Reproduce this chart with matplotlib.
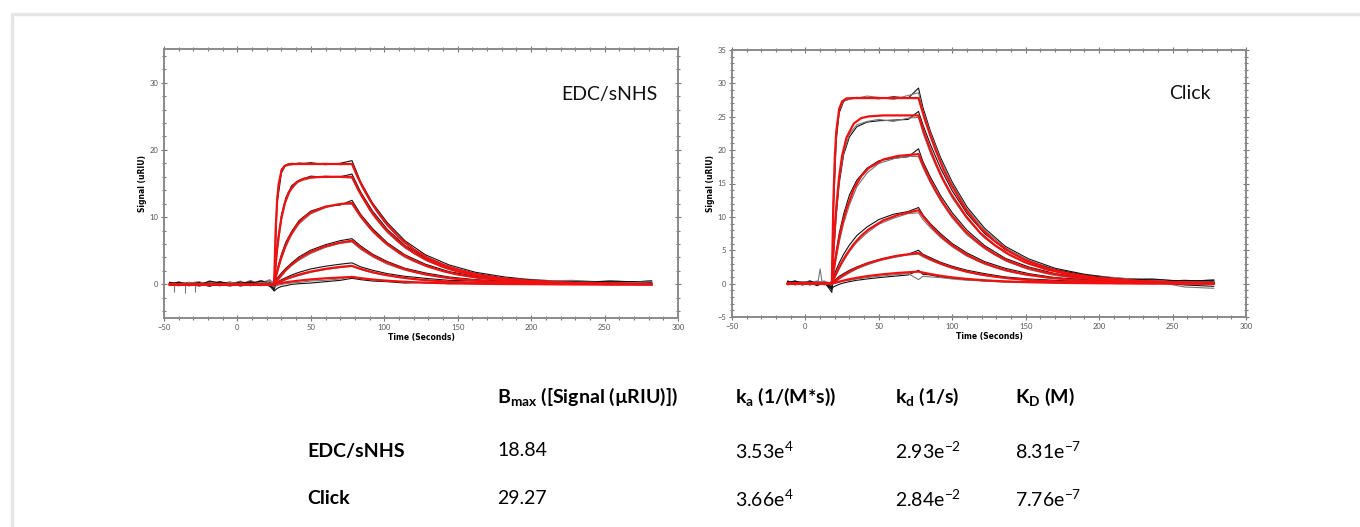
import matplotlib
matplotlib.use("Agg")
import matplotlib.pyplot as plt
from matplotlib.ticker import MultipleLocator
from matplotlib.lines import Line2D

plt.rcParams['font.family'] = ['Lato', 'DejaVu Sans']
plt.rcParams['mathtext.fontset'] = 'custom'
plt.rcParams['mathtext.rm'] = 'Lato'
plt.rcParams['mathtext.bf'] = 'Lato:bold'

# ---------------- EDC/sNHS panel ----------------
# fitted curves (red)
edc_fit_t = [-46, 25, 26, 27, 28, 30, 32, 35, 40, 45, 50, 60, 70, 78, 82, 86, 90, 95,
             100, 110, 120, 130, 140, 150, 165, 180, 200, 230, 260, 282]
edc_fit = [
    [0, 0, 8.0, 12.4, 14.8, 16.95, 17.6, 17.85, 17.9, 17.9, 17.9, 17.9, 17.9, 17.9,
     15.9, 14.2, 12.6, 10.9, 9.4, 7.0, 5.2, 3.9, 2.9, 2.2, 1.4, 0.9, 0.5, 0.2, 0.09, 0.04],
    [0, 0, 2.8, 5.2, 7.1, 10.0, 11.9, 13.7, 15.15, 15.7, 15.9, 16.0, 16.0, 16.0,
     14.2, 12.7, 11.2, 9.7, 8.4, 6.3, 4.7, 3.5, 2.6, 1.9, 1.25, 0.8, 0.45, 0.19, 0.08, 0.04],
    [0, 0, 0.97, 1.85, 2.67, 4.1, 5.35, 6.9, 8.7, 9.9, 10.7, 11.55, 11.95, 12.1,
     10.75, 9.6, 8.5, 7.36, 6.35, 4.74, 3.53, 2.64, 1.97, 1.46, 0.94, 0.61, 0.34, 0.14, 0.06, 0.03],
    [0, 0, 0.31, 0.61, 0.90, 1.43, 1.92, 2.6, 3.5, 4.24, 4.83, 5.68, 6.22, 6.5,
     5.78, 5.14, 4.57, 3.95, 3.41, 2.55, 1.90, 1.42, 1.06, 0.79, 0.51, 0.33, 0.18, 0.075, 0.03, 0.015],
    [0, 0, 0.11, 0.22, 0.33, 0.52, 0.71, 0.97, 1.33, 1.64, 1.90, 2.31, 2.60, 2.75,
     2.44, 2.18, 1.93, 1.67, 1.44, 1.08, 0.80, 0.60, 0.45, 0.33, 0.21, 0.14, 0.077, 0.03, 0.013, 0.006],
    [0, 0, 0.04, 0.08, 0.12, 0.20, 0.27, 0.37, 0.51, 0.63, 0.74, 0.90, 1.02, 1.1,
     0.98, 0.87, 0.77, 0.67, 0.58, 0.43, 0.32, 0.24, 0.18, 0.13, 0.085, 0.055, 0.03, 0.01, 0.005, 0.0],
]
# measured traces (black / grey), two replicates per concentration
edc_raw_t = [-46, -40, -33, -26, -19, -12, -5, 2, 9, 16, 22, 25, 27, 30, 33, 37, 42, 50,
             60, 70, 78, 84, 92, 102, 114, 128, 144, 162, 182, 204, 228, 254, 282]
edc_raw = [
    [0.2, 0.1, -0.2, 0.0, 0.3, -0.1, 0.1, 0.4, -0.2, 0.5, 0.3, -0.4, 12.0, 16.6, 17.8, 18.0,
     17.9, 18.1, 17.8, 18.0, 18.4, 15.2, 12.1, 9.2, 6.5, 4.4, 2.9, 1.8, 1.1, 0.6, 0.5, 0.3, 0.4],
    [-0.1, 0.3, 0.1, -0.3, 0.2, 0.4, -0.2, 0.0, 0.6, -0.1, 0.2, 0.1, 13.0, 17.2, 17.6, 17.8,
     18.1, 17.9, 18.0, 17.8, 17.9, 14.8, 11.8, 8.7, 6.1, 4.1, 2.7, 1.6, 0.9, 0.7, 0.3, 0.5, 0.2],
    [0.3, -0.2, 0.2, 0.1, -0.3, 0.2, 0.3, -0.1, 0.2, 0.4, -0.3, -0.6, 5.6, 10.3, 12.9, 14.7,
     15.5, 16.1, 15.9, 16.0, 16.4, 13.7, 10.9, 8.2, 5.8, 3.9, 2.5, 1.6, 0.9, 0.6, 0.4, 0.2, 0.5],
    [0.0, 0.4, -0.1, 0.2, 0.1, -0.2, 0.0, 0.5, -0.1, 0.1, 0.6, 0.2, 4.8, 9.6, 12.4, 14.3,
     15.3, 15.8, 16.1, 15.9, 15.8, 13.2, 10.4, 7.7, 5.4, 3.6, 2.2, 1.4, 0.8, 0.5, 0.6, 0.3, 0.2],
    [0.1, 0.0, 0.3, -0.2, 0.4, 0.1, -0.1, 0.2, 0.3, -0.2, 0.2, -0.8, 2.1, 4.5, 6.3, 7.9,
     9.5, 10.9, 11.6, 11.8, 12.5, 10.4, 8.3, 6.2, 4.4, 3.0, 1.9, 1.2, 0.7, 0.5, 0.3, 0.4, 0.1],
    [-0.2, 0.2, 0.0, 0.3, -0.1, 0.0, 0.4, -0.3, 0.1, 0.6, 0.0, 0.3, 1.6, 3.8, 5.6, 7.4,
     9.0, 10.5, 11.4, 12.0, 11.9, 9.9, 7.8, 5.8, 4.0, 2.7, 1.7, 1.0, 0.6, 0.4, 0.5, 0.2, 0.3],
    [0.2, -0.1, 0.1, 0.3, 0.0, -0.2, 0.2, 0.1, 0.4, 0.0, 0.3, -0.5, 0.9, 1.7, 2.4, 3.2,
     4.1, 5.1, 5.9, 6.5, 6.8, 5.7, 4.5, 3.4, 2.4, 1.7, 1.1, 0.7, 0.5, 0.3, 0.4, 0.2, 0.5],
    [0.0, 0.2, -0.2, 0.1, 0.2, 0.3, -0.1, 0.3, -0.2, 0.2, 0.7, 0.0, 0.4, 1.2, 2.0, 2.8,
     3.6, 4.6, 5.5, 6.1, 6.3, 5.2, 4.1, 3.0, 2.1, 1.4, 0.9, 0.6, 0.3, 0.5, 0.2, 0.3, 0.1],
    [0.1, 0.3, 0.0, -0.1, 0.5, 0.2, 0.0, 0.3, 0.1, 0.5, 0.2, -0.7, 0.3, 0.7, 1.0, 1.4,
     1.8, 2.3, 2.7, 3.0, 3.2, 2.6, 2.1, 1.6, 1.2, 0.9, 0.6, 0.5, 0.3, 0.4, 0.2, 0.5, 0.3],
    [-0.1, 0.0, 0.2, 0.4, -0.2, 0.1, 0.3, 0.0, 0.2, -0.1, 0.4, 0.2, 0.1, 0.4, 0.7, 1.0,
     1.3, 1.8, 2.2, 2.5, 2.7, 2.2, 1.7, 1.3, 0.9, 0.6, 0.4, 0.3, 0.5, 0.2, 0.3, 0.1, 0.4],
    [0.3, 0.0, 0.1, 0.2, -0.1, 0.4, 0.1, -0.2, 0.3, 0.2, -0.2, -1.0, -0.6, -0.3, -0.2, 0.0,
     0.1, 0.2, 0.4, 0.6, 0.9, 0.7, 0.5, 0.4, 0.2, 0.3, 0.1, 0.2, 0.0, 0.3, 0.1, 0.2, 0.0],
    [0.0, -0.2, 0.3, 0.0, 0.2, 0.1, -0.3, 0.2, 0.0, 0.3, 0.1, -0.4, -0.2, 0.0, 0.1, 0.2,
     0.3, 0.5, 0.6, 0.8, 1.2, 0.9, 0.7, 0.5, 0.4, 0.2, 0.3, 0.1, 0.2, 0.0, 0.2, -0.1, 0.1],
]
edc_spike_t = [-43, -36, -29]
edc_spike_y = [-1.2, -1.3, -1.2]

# ---------------- Click panel ----------------
click_fit_t = [-12, 18, 19, 20, 21, 23, 25, 28, 33, 38, 43, 53, 63, 77, 81, 85, 89, 94,
               99, 109, 119, 129, 139, 149, 164, 179, 199, 229, 259, 278]
click_fit = [
    [0, 0, 12.05, 18.9, 22.8, 26.2, 27.3, 27.75, 27.8, 27.8, 27.8, 27.8, 27.8, 27.8,
     24.8, 22.2, 19.8, 17.1, 14.9, 11.2, 8.4, 6.35, 4.8, 3.6, 2.35, 1.53, 0.87, 0.37, 0.16, 0.09],
    [0, 0, 4.66, 8.45, 11.5, 16.1, 19.2, 21.9, 24.0, 24.8, 25.05, 25.2, 25.2, 25.2,
     22.5, 20.1, 17.9, 15.5, 13.5, 10.2, 7.6, 5.75, 4.33, 3.25, 2.13, 1.39, 0.78, 0.34, 0.14, 0.08],
    [0, 0, 1.59, 3.06, 4.4, 6.83, 8.86, 11.2, 14.2, 16.1, 17.3, 18.6, 19.13, 19.4,
     17.3, 15.5, 13.8, 12.0, 10.4, 7.8, 5.9, 4.4, 3.3, 2.5, 1.64, 1.07, 0.6, 0.26, 0.11, 0.06],
    [0, 0, 0.54, 1.06, 1.55, 2.47, 3.3, 4.4, 5.96, 7.16, 8.12, 9.47, 10.3, 11.0,
     9.82, 8.77, 7.82, 6.79, 5.89, 4.43, 3.33, 2.51, 1.89, 1.42, 0.93, 0.61, 0.34, 0.15, 0.06, 0.04],
    [0, 0, 0.18, 0.36, 0.52, 0.84, 1.14, 1.55, 2.15, 2.65, 3.07, 3.72, 4.19, 4.6,
     4.11, 3.67, 3.27, 2.84, 2.46, 1.85, 1.39, 1.05, 0.79, 0.59, 0.39, 0.25, 0.14, 0.06, 0.03, 0.015],
    [0, 0, 0.065, 0.13, 0.19, 0.3, 0.41, 0.57, 0.79, 0.98, 1.15, 1.41, 1.60, 1.8,
     1.61, 1.44, 1.28, 1.11, 0.96, 0.72, 0.55, 0.41, 0.31, 0.23, 0.15, 0.10, 0.055, 0.024, 0.01, 0.006],
]
click_raw_t = [-12, -7, -2, 3, 8, 13, 18, 19, 21, 23, 26, 30, 35, 42, 50, 60, 70, 77,
               80, 85, 92, 100, 110, 122, 136, 152, 170, 190, 212, 236, 258, 278]
click_raw = [
    [0.3, 0.1, -0.2, 0.2, 0.0, 0.3, -0.9, 10.5, 21.5, 25.6, 27.3, 27.7, 27.9, 27.8, 27.7, 28.0,
     27.8, 29.3, 26.4, 22.9, 18.9, 15.2, 11.5, 8.3, 5.6, 3.7, 2.3, 1.4, 0.8, 0.6, 0.4, 0.5],
    [0.0, 0.4, 0.1, -0.1, 0.3, 0.0, 0.2, 11.8, 22.4, 26.0, 27.4, 27.6, 27.8, 28.1, 27.9, 27.6,
     28.2, 28.6, 25.9, 22.6, 18.6, 14.9, 11.2, 8.0, 5.4, 3.5, 2.1, 1.2, 0.9, 0.4, 0.3, 0.2],
    [0.2, -0.2, 0.3, 0.1, -0.3, 0.2, -1.3, 3.8, 10.2, 15.0, 19.3, 22.0, 23.5, 24.2, 24.4, 24.5,
     24.6, 25.8, 23.8, 20.9, 17.3, 13.9, 10.5, 7.5, 5.1, 3.3, 2.1, 1.3, 0.7, 0.2, -0.2, -0.4],
    [-0.1, 0.2, 0.0, 0.4, 0.1, -0.2, 0.3, 4.2, 10.8, 15.6, 19.6, 22.4, 23.8, 24.3, 24.6, 24.3,
     24.8, 24.9, 22.6, 19.6, 16.1, 12.8, 9.7, 6.8, 4.6, 2.9, 1.9, 1.1, 0.5, 0.4, -0.5, -0.7],
    [0.4, 0.0, 0.2, -0.2, 0.1, 0.3, -0.6, 1.8, 4.9, 7.5, 10.4, 13.3, 15.5, 17.3, 18.4, 18.8,
     19.0, 20.2, 18.3, 16.0, 13.2, 10.6, 8.0, 5.7, 3.8, 2.5, 1.5, 0.9, 0.5, 0.7, 0.3, 0.4],
    [0.1, 0.3, -0.1, 0.2, 0.4, -0.1, 0.1, 1.2, 3.9, 6.2, 9.0, 11.8, 14.5, 16.6, 18.0, 18.7,
     19.1, 19.0, 17.4, 15.1, 12.4, 9.8, 7.3, 5.2, 3.4, 2.1, 1.2, 0.7, 0.3, 0.5, 0.2, 0.6],
    [0.2, 0.4, 0.0, 0.3, -0.2, 0.2, 0.0, 0.9, 2.1, 3.1, 4.4, 5.8, 7.2, 8.5, 9.6, 10.4,
     10.8, 11.4, 10.3, 9.0, 7.5, 6.0, 4.6, 3.3, 2.3, 1.5, 0.9, 0.6, 0.4, 0.2, 0.5, 0.3],
    [-0.2, 0.1, 0.3, 0.0, 0.2, 0.4, -0.4, 0.4, 1.3, 2.2, 3.4, 4.8, 6.2, 7.6, 8.9, 9.8,
     10.5, 10.6, 9.6, 8.4, 6.9, 5.5, 4.1, 2.9, 1.9, 1.2, 0.8, 0.3, 0.5, 0.1, 0.3, 0.4],
    [0.3, -0.1, 0.1, 0.4, 0.0, 0.1, -0.5, 0.3, 0.7, 1.1, 1.5, 2.0, 2.5, 3.1, 3.6, 4.1,
     4.4, 5.0, 4.4, 3.9, 3.2, 2.6, 2.0, 1.5, 1.0, 0.7, 0.5, 0.3, 0.6, 0.2, 0.4, 0.5],
    [0.0, 0.2, -0.2, 0.1, 0.3, -0.1, 0.2, 0.1, 0.4, 0.7, 1.1, 1.6, 2.2, 2.8, 3.4, 3.9,
     4.3, 4.4, 4.0, 3.5, 2.9, 2.3, 1.7, 1.2, 0.8, 0.5, 0.3, 0.4, 0.1, 0.3, 0.0, 0.2],
    [0.1, 0.3, 0.2, -0.1, 0.2, 0.0, -0.8, -0.5, -0.3, -0.1, 0.1, 0.3, 0.5, 0.7, 0.9, 1.1,
     1.3, 2.0, 1.4, 1.3, 1.0, 0.8, 0.6, 0.4, 0.3, 0.2, 0.4, 0.1, 0.3, 0.0, 0.2, 0.1],
    [-0.1, 0.0, 0.3, 0.2, -0.1, 0.3, 0.1, 0.0, 0.1, 0.2, 0.4, 0.5, 0.7, 0.9, 1.1, 1.3,
     1.5, 0.6, 1.1, 1.0, 0.9, 0.7, 0.5, 0.4, 0.2, 0.3, 0.1, 0.2, 0.0, 0.1, 0.3, 0.0],
]
click_spike_t = [8.5, 10, 11.5]
click_spike_y = [0.1, 2.2, 0.0]

# ---------------- table ----------------
row_names = ['EDC/sNHS', 'Click']
col_heads = [r'B$_{\mathregular{max}}$ ([Signal (µRIU)])', r'k$_{\mathregular{a}}$ (1/(M*s))',
             r'k$_{\mathregular{d}}$ (1/s)', r'K$_{\mathregular{D}}$ (M)']
bmax = ['18.84', '29.27']
ka = [r'3.53e$^{4}$', r'3.66e$^{4}$']
kd = [r'2.93e$^{-2}$', r'2.84e$^{-2}$']
KD = [r'8.31e$^{-7}$', r'7.76e$^{-7}$']

fig = plt.figure(figsize=(13.6, 5.27), dpi=100)

# light grey page frame (top and left edge only)
fig.lines.append(Line2D([12 / 1360, 12 / 1360, 1.0], [0.0, 1 - 14 / 527, 1 - 14 / 527],
                        transform=fig.transFigure, color='#e6e6e6', lw=2.5))

def sensorgram(ax, raw_t, raw, fit_t, fit, spike_t, spike_y, vspike, yminor, ylabels, label):
    greys = ['#111111', '#777777']
    for i, tr in enumerate(raw):
        ax.plot(raw_t, tr, color=greys[i % 2], lw=0.8)
    if vspike:
        ax.vlines(spike_t, 0, spike_y, color='#777777', lw=0.8)
    else:
        ax.plot(spike_t, spike_y, color='#777777', lw=0.8)
    for f in fit:
        ax.plot(fit_t, f, color='#f01010', lw=1.6)
    ax.set_xlim(-50, 300)
    ax.set_ylim(-5, 35)
    ax.xaxis.set_major_locator(MultipleLocator(50))
    ax.xaxis.set_minor_locator(MultipleLocator(10))
    ax.set_yticks(ylabels)
    ax.yaxis.set_minor_locator(MultipleLocator(yminor))
    ax.tick_params(which='both', direction='inout', top=True, right=True, colors='#777777',
                   labelsize=5.5, labelcolor='#555555', pad=2, width=0.8)
    ax.tick_params(which='major', length=4)
    ax.tick_params(which='minor', length=2.5)
    for s in ax.spines.values():
        s.set_color('#8a8a8a')
        s.set_linewidth(1.4)
    ax.set_xlabel('Time (Seconds)', fontsize=5.5, fontweight='bold', family='DejaVu Sans', labelpad=2)
    ax.set_ylabel('Signal (uRIU)', fontsize=5.5, fontweight='bold', family='DejaVu Sans', labelpad=2)
    ax.text(label[1], label[2], label[0], fontsize=14, ha='center', va='center', color='#111111')

axL = fig.add_axes([164 / 1360, 1 - 318 / 527, 514 / 1360, 269 / 527])
sensorgram(axL, edc_raw_t, edc_raw, edc_fit_t, edc_fit, edc_spike_t, edc_spike_y, True,
           2, [0, 10, 20, 30], ('EDC/sNHS', 253, 28.3))
axR = fig.add_axes([732 / 1360, 1 - 317 / 527, 514 / 1360, 267 / 527])
sensorgram(axR, click_raw_t, click_raw, click_fit_t, click_fit, click_spike_t, click_spike_y, False,
           1, [-5, 0, 5, 10, 15, 20, 25, 30, 35], ('Click', 262, 28.5))

col_x = [497 / 1360, 735 / 1360, 895 / 1360, 1015 / 1360]
row_y = [1 - 451 / 527, 1 - 499 / 527]
head_y = 1 - 397 / 527
for x, h in zip(col_x, col_heads):
    fig.text(x, head_y, h, fontsize=14, fontweight='bold', va='center', ha='left')
for r, name in enumerate(row_names):
    fig.text(307 / 1360, row_y[r], name, fontsize=14, fontweight='bold', va='center', ha='left')
    for x, v in zip(col_x, [bmax[r], ka[r], kd[r], KD[r]]):
        fig.text(x, row_y[r], v, fontsize=14, va='center', ha='left')

fig.savefig('out.png', dpi=100, facecolor='white')
